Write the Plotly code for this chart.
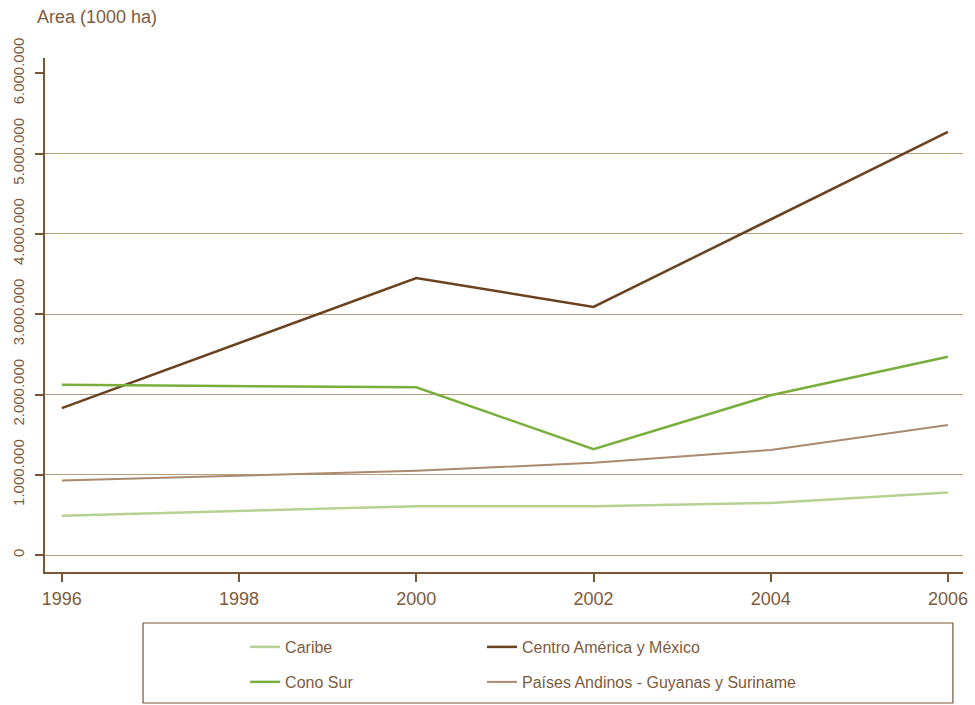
import plotly.graph_objects as go

years = [1996, 2000, 2002, 2004, 2006]
caribe = [490000, 610000, 610000, 650000, 780000]
centro = [1830000, 3450000, 3090000, 4180000, 5270000]
cono_sur = [2120000, 2090000, 1320000, 1990000, 2470000]
andinos = [930000, 1050000, 1150000, 1310000, 1620000]

names = ["Caribe", "Centro América y México", "Cono Sur", "Países Andinos - Guyanas y Suriname"]
colors = ["#b7d192", "#6b4220", "#7aae3c", "#a98a6e"]
widths = [2.5, 2.5, 2.5, 2]
series = [caribe, centro, cono_sur, andinos]
legends = ["legend", "legend2", "legend3", "legend4"]

x_ticks = [1996, 1998, 2000, 2002, 2004, 2006]
y_ticks = [0, 1000000, 2000000, 3000000, 4000000, 5000000, 6000000]
grid_vals = [0, 1000000, 2000000, 3000000, 4000000, 5000000]

TXT = "#7d5b3d"
AX = "#7b5635"
FONT = "Liberation Sans"

fig = go.Figure()
# invisible trace to activate the grid axis
fig.add_trace(go.Scatter(x=[years[0]], y=[caribe[0]], yaxis="y2", mode="lines",
                         showlegend=False, hoverinfo="skip", line=dict(width=0)))
for nm, col, w, s, lg in zip(names, colors, widths, series, legends):
    fig.add_trace(go.Scatter(x=years, y=s, mode="lines", name=nm,
                             line=dict(color=col, width=w), legend=lg))

yr = [-210000, 6190000]
col_x = [0.218, 0.476]
row_y = [-0.1459, -0.2140]


def leg(cx, ry):
    return dict(orientation="h", x=cx, y=ry, xanchor="left", yanchor="middle",
                bgcolor="rgba(0,0,0,0)", font=dict(size=16, color=TXT))


fig.update_layout(
    width=975, height=705,
    margin=dict(l=45, r=12, t=58, b=133, autoexpand=False),
    paper_bgcolor="white", plot_bgcolor="white",
    separators=",.",
    font=dict(family=FONT, size=16, color=TXT),
    xaxis=dict(range=[1995.81, 2006.17], tickvals=x_ticks, showgrid=False,
               showline=True, linecolor=AX, linewidth=1.5, ticks="outside",
               ticklen=8, tickcolor=AX, tickwidth=1.5, zeroline=False,
               automargin=False, ticklabelstandoff=2,
               tickfont=dict(size=18, color=TXT)),
    yaxis=dict(range=yr, tickvals=y_ticks, tickformat=",d", showgrid=False,
               showline=True, linecolor=AX, linewidth=1.5, ticks="outside",
               ticklen=8, tickcolor=AX, tickwidth=1.5, zeroline=False,
               automargin=False, tickangle=-90, ticklabelstandoff=5,
               tickfont=dict(size=15, color=TXT)),
    yaxis2=dict(range=yr, overlaying="y", tickvals=grid_vals, showgrid=True,
                gridcolor="#b89c82", gridwidth=1, showticklabels=False,
                ticks="", zeroline=False, showline=False, automargin=False),
    legend=leg(col_x[0], row_y[0]),
    legend2=leg(col_x[1], row_y[0]),
    legend3=leg(col_x[0], row_y[1]),
    legend4=leg(col_x[1], row_y[1]),
    showlegend=True,
    shapes=[dict(type="rect", xref="paper", yref="paper", x0=0.1068, x1=0.989,
                 y0=-0.2549, y1=-0.0992, line=dict(color=AX, width=1.2),
                 fillcolor="rgba(0,0,0,0)", layer="below")],
    annotations=[dict(text="Area (1000 ha)", xref="paper", yref="paper",
                      x=-0.011, y=1.08, xanchor="left", yanchor="middle",
                      showarrow=False, font=dict(size=18, color=TXT))],
)
fig.write_html("out.html", config={"displayModeBar": False},
               post_script="document.body.style.margin='0';")
